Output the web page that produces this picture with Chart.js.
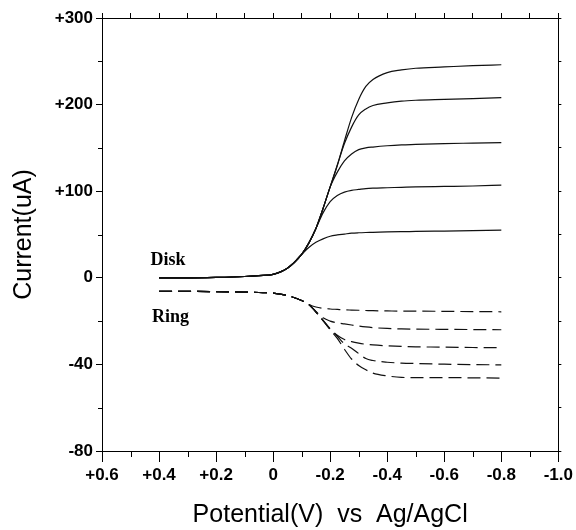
<!DOCTYPE html>
<html>
<head>
<meta charset="utf-8">
<script src="https://cdn.jsdelivr.net/npm/chart.js@4"></script>
<style>
  body { margin: 0; background: #fff; }
  canvas { display: block; }
</style>
</head>
<body>
<canvas id="cvs" width="576" height="530"></canvas>
<script>
// potential (V vs Ag/AgCl)
const potential = [0.4, 0.3, 0.2, 0.1, 0.05, 0, -0.05, -0.1, -0.125, -0.15, -0.175, -0.2, -0.225, -0.25, -0.275, -0.3, -0.325, -0.35, -0.4, -0.45, -0.5, -0.6, -0.7, -0.8]

// disk current (uA)
const disk1 = [0, 0, 0.5, 1.5, 2.5, 4, 11, 27, 40, 57, 80, 105, 130, 158, 185, 206, 221, 229, 237, 240, 242, 243.5, 245, 246]
const disk2 = [0, 0, 0.5, 1.5, 2.5, 4, 11, 27, 40, 57, 80, 105, 130, 155, 174, 188, 195, 199, 202, 204, 205, 206, 207, 208]
const disk3 = [0, 0, 0.5, 1.5, 2.5, 4, 11, 27, 40, 57, 80, 105, 122, 135, 143, 148, 150, 151, 152.5, 153.5, 154, 155, 155.5, 156]
const disk4 = [0, 0, 0.5, 1.5, 2.5, 4, 11, 27, 40, 57, 75, 88, 95, 99, 101, 102, 103, 103.5, 104, 104.5, 105, 105.5, 106, 107]
const disk5 = [0, 0, 0.5, 1.5, 2.5, 4, 11, 27, 35, 41, 45, 48, 49.5, 50.5, 51.5, 52, 52.3, 52.5, 53, 53.3, 53.5, 54, 54.5, 55]

// ring current (uA)
const ring1 = [-6.3, -6.3, -6.4, -6.6, -6.8, -7.1, -8.2, -10.5, -12.3, -13.5, -14.1, -14.4, -14.6, -14.8, -14.9, -15, -15.1, -15.2, -15.3, -15.4, -15.4, -15.5, -15.6, -15.7]
const ring2 = [-6.3, -6.3, -6.4, -6.6, -6.8, -7.1, -8.2, -10.5, -12.3, -15.5, -18.5, -20, -20.8, -21.3, -21.8, -22.3, -22.7, -23, -23.4, -23.6, -23.7, -23.8, -23.9, -24]
const ring3 = [-6.3, -6.3, -6.4, -6.6, -6.8, -7.1, -8.2, -10.5, -12.3, -15.8, -19.5, -23.5, -26.5, -28.5, -29.5, -30.2, -30.7, -31, -31.4, -31.7, -31.9, -32, -32.2, -32.3]
const ring4 = [-6.3, -6.3, -6.4, -6.6, -6.8, -7.1, -8.2, -10.5, -12.3, -15.8, -19.8, -23.8, -27, -30.5, -32.5, -35, -37.3, -38.2, -39, -39.4, -39.6, -39.9, -40.1, -40.2]
const ring5 = [-6.3, -6.3, -6.4, -6.6, -6.8, -7.1, -8.2, -10.5, -12.3, -15.8, -19.8, -24, -28, -33, -37.5, -40.5, -42.5, -44, -45.3, -46, -46.1, -46.1, -46.2, -46.3]

// axis ticks
const xTickValues = [0.6, 0.4, 0.2, 0, -0.2, -0.4, -0.6, -0.8, -1.0]
const xTickLabels = ['+0.6', '+0.4', '+0.2', '0', '-0.2', '-0.4', '-0.6', '-0.8', '-1.0']
// y axis is split: upper half is 100 uA per step (disk), lower half 40 uA per step (ring)
const yTickLabels = ['-80', '-40', '0', '+100', '+200', '+300']
const diskStep = 100
const ringStep = 40

const toPoints = (vals, step) => vals.map((v, i) => ({ x: potential[i], y: v / step }))

const diskSets = [disk1, disk2, disk3, disk4, disk5].map(d => ({
    data: toPoints(d, diskStep),
    borderColor: '#111',
    borderWidth: 1.2,
    pointRadius: 0,
    fill: false,
    cubicInterpolationMode: 'monotone'
}))
const ringSets = [ring1, ring2, ring3, ring4, ring5].map(r => ({
    data: toPoints(r, ringStep),
    borderColor: '#111',
    borderWidth: 1.2,
    borderDash: [13, 6],
    pointRadius: 0,
    fill: false,
    cubicInterpolationMode: 'monotone'
}))

// minor ticks and the Disk / Ring labels
const extras = {
    id: 'extras',
    afterDraw(chart) {
        const ctx = chart.ctx
        const x = chart.scales.x
        const y = chart.scales.y
        const area = chart.chartArea
        ctx.save()
        ctx.strokeStyle = '#000'
        ctx.lineWidth = 1
        ctx.beginPath()
        for (let v = -0.9; v < 0.6; v += 0.2) {
            const px = Math.round(x.getPixelForValue(v)) + 0.5
            ctx.moveTo(px, area.bottom)
            ctx.lineTo(px, area.bottom + 6)
        }
        for (let v = -1.5; v < 3; v += 1) {
            const py = Math.round(y.getPixelForValue(v)) + 0.5
            ctx.moveTo(area.left, py)
            ctx.lineTo(area.left - 4, py)
        }
        ctx.stroke()

        ctx.fillStyle = '#000'
        ctx.font = 'bold 18px "Liberation Serif"'
        ctx.textBaseline = 'alphabetic'
        ctx.fillText('Disk', x.getPixelForValue(0.43), y.getPixelForValue(0.15))
        ctx.fillText('Ring', x.getPixelForValue(0.425), y.getPixelForValue(-0.51))
        ctx.restore()
    }
}

const tickFont = { family: '"Liberation Sans"', size: 17, weight: 'bold' }
const titleFont = { family: '"Liberation Sans"', size: 25 }

new Chart(document.getElementById('cvs'), {
    type: 'line',
    data: { datasets: [...diskSets, ...ringSets] },
    options: {
        responsive: false,
        animation: false,
        layout: { padding: 0 },
        plugins: { legend: { display: false }, tooltip: { enabled: false } },
        scales: {
            x: {
                type: 'linear',
                position: 'bottom',
                min: -1.0,
                max: 0.6,
                reverse: true,
                afterBuildTicks: (s) => { s.ticks = xTickValues.map(v => ({ value: v })) },
                afterFit: (s) => { s.height = 79 },
                ticks: {
                    color: '#000',
                    font: tickFont,
                    padding: 3,
                    maxRotation: 0,
                    callback: (v, i) => xTickLabels[i]
                },
                grid: { drawOnChartArea: false, tickLength: 11, tickColor: '#000' },
                border: { color: '#000', width: 1 },
                title: {
                    display: true,
                    text: 'Potential(V)  vs  Ag/AgCl',
                    color: '#000',
                    font: titleFont,
                    padding: { top: 0, bottom: 0 }
                }
            },
            y: {
                type: 'linear',
                position: 'left',
                min: -2,
                max: 3,
                afterBuildTicks: (s) => { s.ticks = yTickLabels.map((t, i) => ({ value: i - 2 })) },
                afterFit: (s) => { s.width = 102 },
                ticks: {
                    color: '#000',
                    font: tickFont,
                    padding: 3,
                    callback: (v, i) => yTickLabels[i]
                },
                grid: { drawOnChartArea: false, tickLength: 6, tickColor: '#000' },
                border: { color: '#000', width: 1 },
                title: {
                    display: true,
                    text: 'Current(uA)',
                    color: '#000',
                    font: titleFont,
                    padding: { top: 9, bottom: 0 }
                }
            },
            x2: {
                type: 'linear',
                position: 'top',
                min: -1.0,
                max: 0.6,
                reverse: true,
                afterBuildTicks: (s) => {
                    const t = []
                    for (let i = 0; i <= 16; i++) t.push({ value: -1.0 + i * 0.1 })
                    s.ticks = t
                },
                afterFit: (s) => { s.height = 18 },
                ticks: { display: false },
                grid: { drawOnChartArea: false, tickLength: 5, tickColor: '#000' },
                border: { color: '#000', width: 1 }
            },
            y2: {
                type: 'linear',
                position: 'right',
                min: -2,
                max: 3,
                afterBuildTicks: (s) => {
                    const t = []
                    for (let i = 0; i <= 10; i++) t.push({ value: -2 + i * 0.5 })
                    s.ticks = t
                },
                afterFit: (s) => { s.width = 17 },
                ticks: { display: false },
                grid: { drawOnChartArea: false, tickLength: 3, tickColor: '#000' },
                border: { color: '#000', width: 1 }
            }
        }
    },
    plugins: [extras]
})
</script>
</body>
</html>
